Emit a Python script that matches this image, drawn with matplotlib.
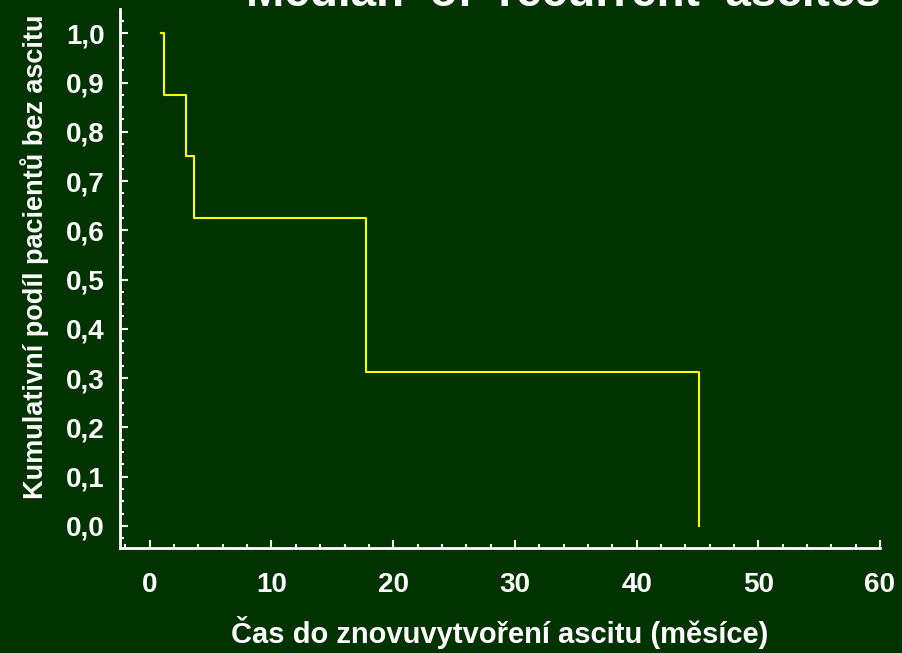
import matplotlib.pyplot as plt
from matplotlib.ticker import FixedLocator, MultipleLocator, FuncFormatter

# Kaplan-Meier estimate: time in months, cumulative proportion without ascites
times = [0.9, 1.2, 3.0, 3.6, 17.8, 45.1]
survival = [1.0, 0.875, 0.75, 0.625, 0.3125, 0.0]

x_ticks = [0, 10, 20, 30, 40, 50, 60]
y_ticks = [0.0, 0.1, 0.2, 0.3, 0.4, 0.5, 0.6, 0.7, 0.8, 0.9, 1.0]

title = "Median  of  recurrent  ascites"
x_label = "Čas do znovuvytvoření ascitu (měsíce)"
y_label = "Kumulativní podíl pacientů bez ascitu"

bg = "#003300"
fg = "white"

plt.rcParams["font.family"] = ["Liberation Sans", "DejaVu Sans"]
plt.rcParams["font.weight"] = "bold"

fig = plt.figure(figsize=(9.02, 6.53), dpi=100, facecolor=bg)
ax = fig.add_axes([0.133, 0.1608, 0.8426, 0.8252], facecolor=bg)

# each level holds from its own time until the next event
ax.step(times, survival, where="post", color="#ffff00", lw=1.5)

ax.set_xlim(-2.45, 60)
ax.set_ylim(-0.045, 1.049)

for side in ("top", "right"):
    ax.spines[side].set_visible(False)
for side in ("left", "bottom"):
    ax.spines[side].set_color(fg)
    ax.spines[side].set_linewidth(2)

ax.xaxis.set_major_locator(FixedLocator(x_ticks))
ax.yaxis.set_major_locator(FixedLocator(y_ticks))
ax.xaxis.set_minor_locator(MultipleLocator(2))
ax.yaxis.set_minor_locator(MultipleLocator(0.025))
ax.yaxis.set_major_formatter(FuncFormatter(lambda v, p: f"{v:.1f}".replace(".", ",")))

ax.tick_params(which="both", direction="in", colors=fg, width=1.5)
ax.tick_params(which="major", length=6, labelsize=20)
ax.tick_params(axis="x", which="major", pad=17)
ax.tick_params(axis="y", which="major", pad=11)
ax.tick_params(which="minor", length=3)
for lab in ax.get_xticklabels() + ax.get_yticklabels():
    lab.set_fontweight("bold")

ax.set_xlabel(x_label, color=fg, fontsize=21, fontweight="bold", labelpad=13)

# y label sits a little above the axes' middle
fig.text(35 / 902, 1 - 257 / 653, y_label, color=fg, fontsize=19.5,
         fontweight="bold", rotation=90, ha="center", va="center")

fig.text(0.625, 0.991, title, color=fg, fontsize=33, fontweight="bold",
         ha="center", va="baseline")

fig.savefig("out.png", dpi=100, facecolor=bg)
